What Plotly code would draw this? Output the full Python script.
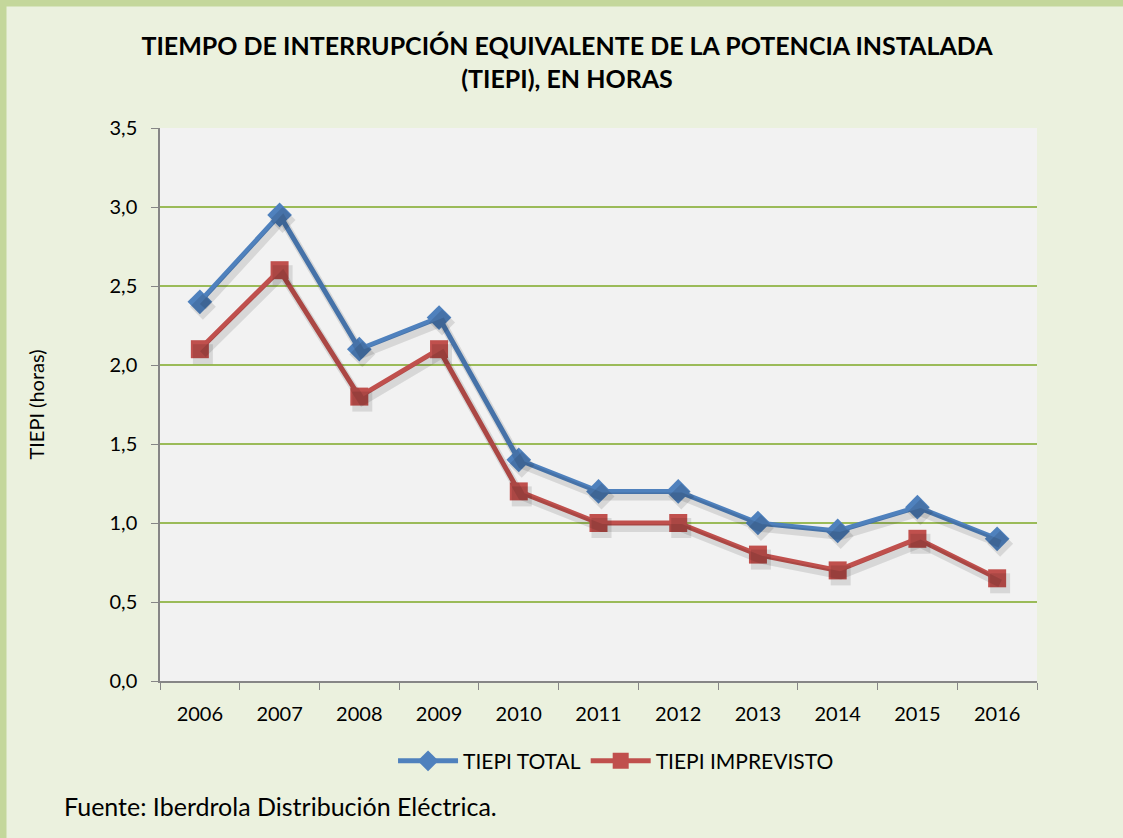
import plotly.graph_objects as go

years = ["2006", "2007", "2008", "2009", "2010", "2011", "2012", "2013", "2014", "2015", "2016"]
tiepi_total = [2.4, 2.95, 2.1, 2.3, 1.4, 1.2, 1.2, 1.0, 0.95, 1.1, 0.9]
tiepi_imprevisto = [2.1, 2.6, 1.8, 2.1, 1.2, 1.0, 1.0, 0.8, 0.7, 0.9, 0.65]
y_ticks = [0, 0.5, 1.0, 1.5, 2.0, 2.5, 3.0, 3.5]
y_labels = ["0,0", "0,5", "1,0", "1,5", "2,0", "2,5", "3,0", "3,5"]

W, H = 1123, 838
ML, MR, MT, MB = 160, 86, 128, 157
PW, PH = W - ML - MR, H - MT - MB

BLUE = "#4F81BD"
RED = "#C0504D"
BORDER = "#C4D79B"
FONT = "Lato, Open Sans, sans-serif"

fig = go.Figure()

# soft drop shadow: same series on an overlaid axis pair shifted a few pixels
dx, dy = 3, 5
for vals, sym in [(tiepi_total, "diamond"), (tiepi_imprevisto, "square")]:
    fig.add_trace(go.Scatter(
        x=years, y=vals, mode="lines+markers", xaxis="x2", yaxis="y2",
        line=dict(color="rgba(0,0,0,0.11)", width=8),
        marker=dict(symbol=sym, size=20, color="rgba(0,0,0,0.11)"),
        showlegend=False, hoverinfo="skip",
    ))

fig.add_trace(go.Scatter(
    x=years, y=tiepi_total, mode="lines+markers", name="TIEPI TOTAL",
    line=dict(color=BLUE, width=5),
    marker=dict(symbol="diamond", size=19, color=BLUE),
))
fig.add_trace(go.Scatter(
    x=years, y=tiepi_imprevisto, mode="lines+markers", name="TIEPI IMPREVISTO",
    line=dict(color=RED, width=5),
    marker=dict(symbol="square", size=18, color=RED),
))

n = len(years)
xr = [-0.5, n - 0.5]
yr = [0, 3.5]
sx = dx * (xr[1] - xr[0]) / PW
sy = dy * (yr[1] - yr[0]) / PH


def px_x(p):
    return (p - ML) / PW


def px_y(p):
    return 1 - (p - MT) / PH


fig.update_layout(
    width=W, height=H,
    margin=dict(l=ML, r=MR, t=MT, b=MB),
    paper_bgcolor="#EBF1DE",
    plot_bgcolor="#F2F2F2",
    font=dict(family=FONT, size=20, color="black"),
    title=dict(
        text="<b>TIEMPO DE INTERRUPCIÓN EQUIVALENTE DE LA POTENCIA INSTALADA<br>(TIEPI), EN HORAS</b>",
        x=(567 / W), xanchor="center", y=1 - 55 / H, yanchor="top",
        font=dict(family=FONT, size=25, color="black"),
    ),
    xaxis=dict(
        type="category", range=xr, tickson="boundaries",
        ticks="outside", ticklen=7, tickcolor="#868686",
        showline=True, linecolor="#868686", linewidth=1.5,
        showgrid=False, tickfont=dict(size=20), ticklabelstandoff=14,
    ),
    yaxis=dict(
        range=yr, tickvals=y_ticks, ticktext=y_labels,
        ticks="outside", ticklen=7, tickcolor="#868686",
        showline=True, linecolor="#868686", linewidth=1.5,
        gridcolor="#9BBB59", gridwidth=1.5, zeroline=False,
        title=dict(text="TIEPI (horas)", font=dict(size=20), standoff=60),
        tickfont=dict(size=20), ticklabelstandoff=10,
    ),
    xaxis2=dict(type="category", range=[xr[0] - sx, xr[1] - sx], overlaying="x",
                visible=False),
    yaxis2=dict(range=[yr[0] + sy, yr[1] + sy], overlaying="y", visible=False),
    legend=dict(
        orientation="h", x=0.52, xanchor="center", y=-0.108, yanchor="top",
        font=dict(size=21), bgcolor="rgba(0,0,0,0)",
        itemwidth=60,
    ),
    annotations=[dict(
        text="Fuente: Iberdrola Distribución Eléctrica.",
        xref="paper", yref="paper",
        x=px_x(62), xanchor="left",
        y=px_y(806), yanchor="middle",
        showarrow=False, font=dict(family=FONT, size=25, color="black"),
    )],
    shapes=[
        dict(type="line", xref="paper", yref="paper", layer="above",
             x0=px_x(0), x1=px_x(W), y0=px_y(3), y1=px_y(3),
             line=dict(color=BORDER, width=7)),
        dict(type="line", xref="paper", yref="paper", layer="above",
             x0=px_x(3), x1=px_x(3), y0=px_y(0), y1=px_y(H),
             line=dict(color=BORDER, width=7)),
    ],
)

fig.write_html("out.html", config={"displayModeBar": False},
               post_script="document.body.style.margin='0';")
